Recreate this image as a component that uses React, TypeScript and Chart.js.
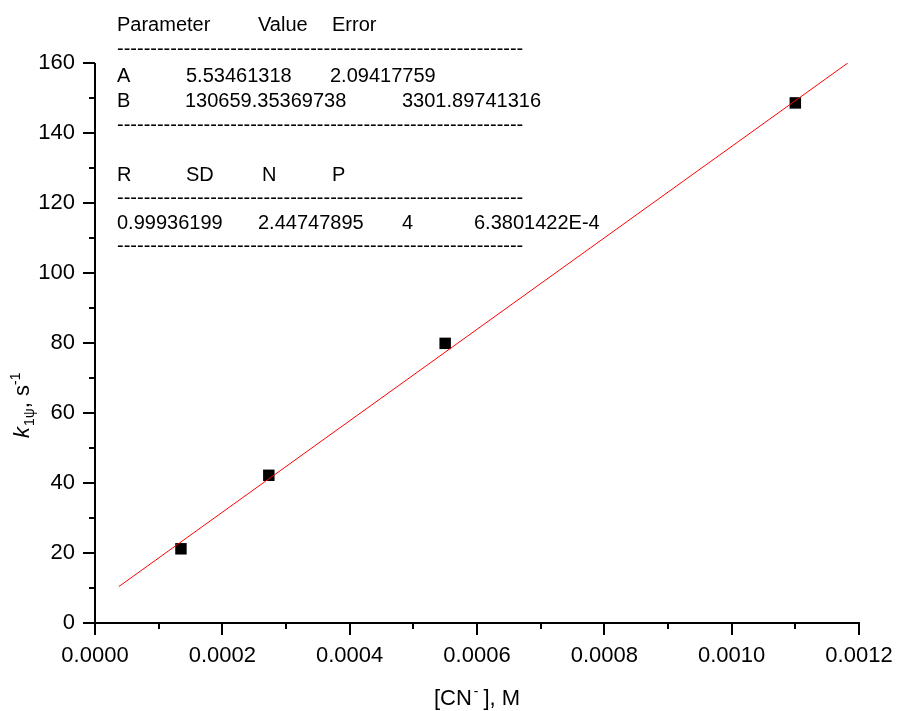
import React, { useEffect, useRef } from "react";
import { Chart, registerables } from "chart.js";

Chart.register(...registerables);

// ---- data ----
const xValues = [0.000135, 0.000273, 0.00055, 0.0011];
const yValues = [21.2, 42.2, 79.9, 148.6];
const fitX = [0.0000374, 0.0011824];
const fitY = [10.4, 160.0];

const xMin = 0;
const xMax = 0.0012;
const xMajorStep = 0.0002;
const xMinorStep = 0.0001;
const yMin = 0;
const yMax = 160;
const yMajorStep = 20;
const yMinorStep = 10;

const tableHeader = ["Parameter", "Value", "Error"];
const tableRowA = ["A", "5.53461318", "2.09417759"];
const tableRowB = ["B", "130659.35369738", "3301.89741316"];
const statsHeader = ["R", "SD", "N", "P"];
const statsRow = ["0.99936199", "2.44747895", "4", "6.3801422E-4"];

const FONT = "'Liberation Sans', Arial, sans-serif";

type Seg = { text: string; size: number; dy?: number; italic?: boolean; gap?: number };

function drawSegs(ctx: CanvasRenderingContext2D, segs: Seg[], x: number, y: number) {
  let cx = x;
  for (const s of segs) {
    cx += s.gap || 0;
    ctx.font = `${s.italic ? "italic " : ""}${s.size}px ${FONT}`;
    ctx.fillText(s.text, cx, y + (s.dy || 0));
    cx += ctx.measureText(s.text).width;
  }
}
function segsWidth(ctx: CanvasRenderingContext2D, segs: Seg[]) {
  let w = 0;
  for (const s of segs) {
    w += s.gap || 0;
    ctx.font = `${s.italic ? "italic " : ""}${s.size}px ${FONT}`;
    w += ctx.measureText(s.text).width;
  }
  return w;
}

const decorPlugin = {
  id: "decor",
  afterDraw(chart: any) {
    const ctx: CanvasRenderingContext2D = chart.ctx;
    const xs = chart.scales.x;
    const ys = chart.scales.y;
    const left = xs.getPixelForValue(xMin);
    const right = xs.getPixelForValue(xMax);
    const bottom = ys.getPixelForValue(yMin);
    const top = ys.getPixelForValue(yMax);
    ctx.save();
    ctx.strokeStyle = "#000";
    ctx.lineWidth = 2;
    ctx.beginPath();
    ctx.moveTo(left, top);
    ctx.lineTo(left, bottom + 1);
    ctx.moveTo(left - 1, bottom);
    ctx.lineTo(right + 1, bottom);
    const nx = Math.round((xMax - xMin) / xMinorStep);
    for (let i = 0; i <= nx; i++) {
      const v = xMin + i * xMinorStep;
      const p = Math.round(xs.getPixelForValue(v));
      const major = Math.abs(v / xMajorStep - Math.round(v / xMajorStep)) < 1e-6;
      ctx.moveTo(p, bottom);
      ctx.lineTo(p, bottom + (major ? 12 : 6));
    }
    const ny = Math.round((yMax - yMin) / yMinorStep);
    for (let i = 0; i <= ny; i++) {
      const v = yMin + i * yMinorStep;
      const p = Math.round(ys.getPixelForValue(v));
      const major = v % yMajorStep === 0;
      ctx.moveTo(left, p);
      ctx.lineTo(left - (major ? 12 : 6), p);
    }
    ctx.stroke();

    ctx.fillStyle = "#000";
    ctx.textBaseline = "alphabetic";
    ctx.textAlign = "left";

    const xt: Seg[] = [
      { text: "[CN", size: 22 },
      { text: "-", size: 14, dy: -9, gap: 2 },
      { text: "], M", size: 22, gap: 5 },
    ];
    const w = segsWidth(ctx, xt);
    drawSegs(ctx, xt, (left + right) / 2 - w / 2, 705);

    ctx.save();
    ctx.translate(28.5, 438);
    ctx.rotate(-Math.PI / 2);
    drawSegs(
      ctx,
      [
        { text: "k", size: 22, italic: true },
        { text: "1ψ", size: 14, dy: 5, gap: 1 },
        { text: ", s", size: 22 },
        { text: "-1", size: 14, dy: -8.5 },
      ],
      0,
      0
    );
    ctx.restore();

    ctx.font = `20px ${FONT}`;
    const dashes = "-".repeat(61);
    const put = (arr: string[], xsPos: number[], y: number) =>
      arr.forEach((t, i) => ctx.fillText(t, xsPos[i], y));
    put(tableHeader, [117, 258, 332], 31);
    ctx.fillText(dashes, 117, 55);
    put(tableRowA, [117, 186, 330], 82);
    put(tableRowB, [117, 185, 402], 107);
    ctx.fillText(dashes, 117, 130.5);
    put(statsHeader, [117, 186, 262, 332], 180.5);
    ctx.fillText(dashes, 117, 204);
    put(statsRow, [117, 258, 402, 474], 229);
    ctx.fillText(dashes, 117, 252);
    ctx.restore();
  },
};

export default function App() {
  const ref = useRef<HTMLCanvasElement | null>(null);
  useEffect(() => {
    document.body.style.margin = "0";
    const canvas = ref.current!;
    const chart = new Chart(canvas, {
      type: "scatter",
      data: {
        datasets: [
          {
            label: "fit",
            data: fitX.map((x, i) => ({ x, y: fitY[i] })),
            showLine: true,
            borderColor: "#ff0000",
            borderWidth: 1,
            pointRadius: 0,
            order: 0,
          },
          {
            label: "data",
            data: xValues.map((x, i) => ({ x, y: yValues[i] })),
            pointStyle: "rect",
            pointRadius: 8.1,
            pointBackgroundColor: "#000",
            pointBorderColor: "#000",
            pointBorderWidth: 0,
            showLine: false,
            order: 1,
          },
        ],
      },
      options: {
        animation: false,
        responsive: false,
        events: [],
        layout: { padding: { top: 63, right: 38, left: 0, bottom: 0 } },
        plugins: { legend: { display: false }, tooltip: { enabled: false } },
        scales: {
          x: {
            type: "linear",
            min: xMin,
            max: xMax,
            grid: { display: false, drawTicks: false },
            border: { display: false },
            ticks: {
              stepSize: xMajorStep,
              color: "#000",
              font: { family: FONT, size: 22 },
              padding: 20,
              maxRotation: 0,
              autoSkip: false,
              callback: (v: any) => Number(v).toFixed(4),
            },
            afterFit: (s: any) => {
              s.height = 88;
              s.paddingLeft = 0;
              s.paddingRight = 0;
            },
          },
          y: {
            type: "linear",
            min: yMin,
            max: yMax,
            grid: { display: false, drawTicks: false },
            border: { display: false },
            ticks: {
              stepSize: yMajorStep,
              color: "#000",
              font: { family: FONT, size: 22 },
              padding: 20,
              callback: (v: any) => String(Math.round(Number(v))),
            },
            afterFit: (s: any) => {
              s.width = 95;
              s.paddingTop = 0;
              s.paddingBottom = 0;
            },
          },
        },
      },
      plugins: [decorPlugin],
    });
    return () => chart.destroy();
  }, []);
  return <canvas ref={ref} width={897} height={711} style={{ display: "block" }} />;
}
